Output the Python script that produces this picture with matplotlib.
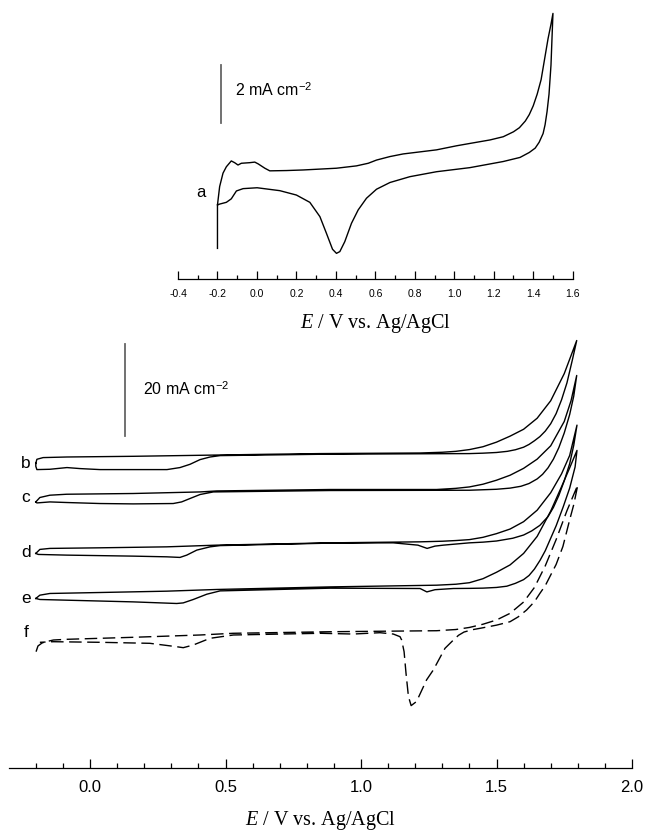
import matplotlib
matplotlib.use("Agg")
import matplotlib.pyplot as plt

plt.rcParams['font.family'] = ['Liberation Sans', 'DejaVu Sans']
plt.rcParams['mathtext.fontset'] = 'custom'
plt.rcParams['mathtext.rm'] = 'Liberation Sans'
plt.rcParams['mathtext.it'] = 'Liberation Serif:italic'

# ---- top panel: curve a (mA cm-2 vs V) ----
a_E = [-0.20, -0.20, -0.189, -0.172, -0.155, -0.130, -0.113, -0.096, -0.079, -0.037, -0.011, 0.006,
       0.040, 0.065, 0.149, 0.234, 0.403, 0.504, 0.564, 0.606, 0.674, 0.741, 0.910, 1.012, 1.079,
       1.181, 1.248, 1.30, 1.33, 1.36, 1.38, 1.40, 1.42, 1.44, 1.46, 1.475, 1.49, 1.50,
       1.495, 1.49, 1.48, 1.47, 1.46, 1.45, 1.43, 1.41, 1.38, 1.333, 1.248, 1.079, 0.910, 0.775,
       0.674, 0.606, 0.555, 0.513, 0.479, 0.445, 0.420, 0.403, 0.383, 0.352, 0.319, 0.268, 0.200,
       0.116, 0.001, -0.070, -0.104, -0.130, -0.155, -0.189, -0.20]
a_I = [-2.69, -1.20, -0.57, -0.11, 0.11, 0.31, 0.25, 0.17, 0.23, 0.25, 0.27, 0.21,
       0.06, -0.03, -0.02, 0.00, 0.06, 0.14, 0.23, 0.34, 0.46, 0.55, 0.69, 0.83, 0.91,
       1.03, 1.14, 1.31, 1.45, 1.68, 1.90, 2.20, 2.60, 3.10, 3.90, 4.50, 5.00, 5.37,
       4.50, 3.60, 2.60, 2.00, 1.55, 1.25, 0.95, 0.75, 0.60, 0.43, 0.29, 0.08, -0.06, -0.23,
       -0.43, -0.66, -0.97, -1.37, -1.83, -2.46, -2.80, -2.86, -2.72, -2.17, -1.60, -1.11, -0.86,
       -0.71, -0.61, -0.64, -0.72, -0.99, -1.11, -1.17, -1.20]

# ---- bottom panel: curves b-f (mA cm-2 vs V, each relative to its own start) ----
b_E = [-0.200, -0.196, -0.173, -0.085, 0.159, 0.406, 0.653, 0.849, 1.218, 1.30, 1.35, 1.40,
       1.45, 1.50, 1.55, 1.60, 1.65, 1.70, 1.75, 1.796,
       1.78, 1.76, 1.74, 1.72, 1.70, 1.68, 1.66, 1.64, 1.62, 1.60, 1.57, 1.54, 1.50, 1.45, 1.40,
       1.218, 0.849, 0.480, 0.443, 0.406, 0.369, 0.332, 0.284, 0.159, 0.037, -0.037, -0.085,
       -0.148, -0.196, -0.200, -0.200]
b_I = [0.0, 0.87, 1.24, 1.37, 1.52, 1.74, 1.96, 2.11, 2.24, 2.40, 2.60, 2.98,
       3.60, 4.60, 5.90, 7.40, 9.80, 13.6, 19.5, 26.7,
       22.5, 17.5, 13.8, 10.8, 8.60, 7.00, 5.80, 4.90, 4.10, 3.50, 2.95, 2.60, 2.35, 2.20, 2.11,
       2.07, 1.96, 1.67, 1.37, 0.80, -0.22, -0.93, -1.37, -1.37, -1.37, -1.15, -0.93,
       -1.30, -1.37, -0.65, 0.0]

c_E = [-0.200, -0.185, -0.148, -0.086, 0.159, 0.406, 0.468, 0.886, 1.279, 1.35, 1.40, 1.45,
       1.50, 1.55, 1.60, 1.65, 1.70, 1.75, 1.775, 1.796,
       1.785, 1.77, 1.75, 1.73, 1.71, 1.69, 1.67, 1.65, 1.62, 1.59, 1.55, 1.50, 1.40, 0.886,
       0.455, 0.406, 0.369, 0.338, 0.307, 0.159, 0.037, -0.086, -0.148, -0.196, -0.200]
c_I = [0.0, 0.96, 1.46, 1.67, 1.83, 2.17, 2.39, 2.70, 2.70, 2.95, 3.26, 3.85,
       4.72, 5.80, 7.30, 9.30, 12.2, 17.5, 22.0, 27.5,
       23.0, 19.0, 15.0, 11.8, 9.30, 7.40, 6.00, 5.00, 4.00, 3.40, 3.00, 2.75, 2.54, 2.48,
       2.17, 1.61, 0.74, 0.0, -0.35, -0.43, -0.35, -0.13, 0.0, -0.22, 0.0]

d_E = [-0.200, -0.185, -0.148, 0.037, 0.283, 0.468, 0.886, 1.218, 1.30, 1.35, 1.40, 1.45,
       1.50, 1.55, 1.60, 1.65, 1.70, 1.74, 1.77, 1.797,
       1.785, 1.77, 1.75, 1.73, 1.71, 1.69, 1.66, 1.63, 1.60, 1.56, 1.50, 1.45, 1.40, 1.304,
       1.273, 1.244, 1.210, 1.119, 0.886, 0.480, 0.443, 0.394, 0.357, 0.332, 0.283, 0.160,
       -0.086, -0.191, -0.200]
d_I = [0.0, 0.87, 1.09, 1.22, 1.43, 1.80, 2.30, 2.52, 2.65, 2.80, 3.00, 3.50,
       4.30, 5.30, 6.90, 9.40, 13.2, 17.3, 21.3, 27.9,
       23.5, 19.5, 15.8, 12.6, 10.0, 8.00, 6.10, 4.90, 4.00, 3.30, 2.70, 2.45, 2.30, 1.80,
       1.59, 1.09, 1.80, 2.30, 2.24, 1.70, 1.43, 0.72, -0.37, -0.87, -0.74, -0.59,
       -0.37, -0.22, 0.0]

e_E = [-0.200, -0.185, -0.148, 0.037, 0.283, 0.468, 0.886, 1.279, 1.35, 1.40, 1.45, 1.50,
       1.55, 1.60, 1.65, 1.70, 1.74, 1.77, 1.797,
       1.79, 1.77, 1.746, 1.72, 1.697, 1.68, 1.661, 1.64, 1.62, 1.60, 1.57, 1.538, 1.50, 1.45,
       1.40, 1.341, 1.273, 1.243, 1.218, 0.886, 0.480, 0.431, 0.381, 0.344, 0.320, 0.160,
       -0.086, -0.185, -0.200]
e_I = [0.0, 0.72, 1.09, 1.30, 1.59, 1.96, 2.52, 2.89, 3.10, 3.43, 4.30, 5.70,
       7.30, 9.80, 13.5, 19.0, 24.3, 28.4, 32.2,
       28.6, 24.0, 19.9, 15.8, 12.7, 10.4, 8.33, 6.40, 5.00, 4.10, 3.30, 2.67, 2.40, 2.25,
       2.20, 2.17, 1.91, 1.43, 2.17, 2.24, 1.65, 0.93, -0.22, -0.96, -1.09, -0.74,
       -0.37, -0.22, 0.0]

f_E = [-0.199, -0.192, -0.177, -0.159, -0.135, -0.086, 0.160, 0.406, 0.528, 0.886, 1.279, 1.35,
       1.40, 1.45, 1.50, 1.55, 1.60, 1.64, 1.68, 1.72, 1.76, 1.800,
       1.785, 1.77, 1.745, 1.72, 1.70, 1.68, 1.66, 1.64, 1.611, 1.58, 1.55, 1.50, 1.439, 1.41,
       1.38, 1.36, 1.341, 1.310, 1.267, 1.242, 1.205, 1.185, 1.175, 1.166, 1.159, 1.150, 1.144,
       1.119, 1.070, 0.972, 0.849, 0.529, 0.443, 0.381, 0.344, 0.320, 0.221, 0.037, -0.135,
       -0.185]
f_I = [-2.17, -0.93, -0.28, 0.04, 0.37, 0.52, 0.96, 1.46, 1.83, 2.17, 2.39, 2.65,
       3.10, 3.80, 4.72, 6.17, 8.63, 11.8, 16.5, 22.2, 28.5, 34.1,
       29.8, 26.5, 20.7, 16.8, 14.5, 12.2, 10.5, 8.70, 6.89, 5.40, 4.35, 3.60, 2.91, 2.60,
       2.10, 1.40, 0.37, -1.43, -6.13, -8.30, -13.0, -13.9, -11.9, -6.80, -2.17, 0.37, 1.09,
       1.67, 1.96, 1.67, 1.83, 1.46, 0.74, -0.72, -1.30, -1.09, -0.35, -0.13, 0.0,
       -0.13]

curves = [(b_E, b_I), (c_E, c_I), (d_E, d_I), (e_E, e_I), (f_E, f_I)]
curve_labels = ['b', 'c', 'd', 'e', 'f']
offsets = [66.2, 57.8, 46.6, 36.8, 27.4]   # vertical stacking of the curves
label_y = [66.2, 58.8, 46.7, 36.9, 29.3]

fig = plt.figure(figsize=(6.46, 8.32), dpi=100)

# top axes
ax1 = fig.add_axes([178 / 646, 1 - 279.3 / 832, (572.7 - 178) / 646, 279.3 / 832])
ax1.plot(a_E, a_I, color='black', lw=1.0)
ax1.set_xlim(-0.4, 1.6)
ax1.set_ylim(-3.75, 5.83)
ax1.plot([-0.18, -0.18], [1.6, 3.6], color='#666666', lw=1.3)
ax1.text(-0.113, 2.74, '2 mA cm$^{-2}$', fontsize=11.5, va='center', ha='left')
ax1.text(-0.282, -0.78, 'a', fontsize=12, va='center', ha='center')
ax1.set_xticks([-0.4, -0.2, 0.0, 0.2, 0.4, 0.6, 0.8, 1.0, 1.2, 1.4, 1.6])
ax1.set_xticklabels(['-0.4', '-0.2', '0.0', '0.2', '0.4', '0.6', '0.8', '1.0', '1.2', '1.4', '1.6'])
ax1.set_xticks([-0.3, -0.1, 0.1, 0.3, 0.5, 0.7, 0.9, 1.1, 1.3, 1.5], minor=True)
ax1.tick_params(axis='x', which='major', direction='in', length=6, width=0.9, pad=7, labelsize=7.5)
ax1.tick_params(axis='x', which='minor', direction='in', length=3, width=0.9)
ax1.set_yticks([])
for s in ['top', 'left', 'right']:
    ax1.spines[s].set_visible(False)
ax1.spines['bottom'].set_linewidth(0.9)
ax1.set_xlabel('$E$ / V vs. Ag/AgCl', fontsize=14.5, family='Liberation Serif', labelpad=9)

# bottom axes
ax2 = fig.add_axes([8.7 / 646, 1 - 767.7 / 832, (632 - 8.7) / 646, (767.7 - 335) / 832])
for (E, I), off, ls in zip(curves, offsets, ['-', '-', '-', '-', '--']):
    y = [v + off for v in I]
    if ls == '--':
        ax2.plot(E, y, color='black', lw=1.0, dashes=(9, 4))
    else:
        ax2.plot(E, y, color='black', lw=1.0)
for lab, ly in zip(curve_labels, label_y):
    ax2.text(-0.236, ly, lab, fontsize=12.5, va='center', ha='center')
ax2.plot([0.129, 0.129], [72.1, 92.1], color='#666666', lw=1.3)
ax2.text(0.196, 82.3, '20 mA cm$^{-2}$', fontsize=11.5, va='center', ha='left')
ax2.set_xlim(-0.3, 2.0)
ax2.set_ylim(0, 94.1)
ax2.set_xticks([0.0, 0.5, 1.0, 1.5, 2.0])
ax2.set_xticklabels(['0.0', '0.5', '1.0', '1.5', '2.0'])
ax2.set_xticks([-0.2, -0.1, 0.1, 0.2, 0.3, 0.4, 0.6, 0.7, 0.8, 0.9, 1.1, 1.2, 1.3, 1.4,
                1.6, 1.7, 1.8, 1.9], minor=True)
ax2.tick_params(axis='x', which='major', direction='in', length=6.5, width=0.9, pad=9, labelsize=12)
ax2.tick_params(axis='x', which='minor', direction='in', length=3.3, width=0.9)
ax2.set_yticks([])
for s in ['top', 'left', 'right']:
    ax2.spines[s].set_visible(False)
ax2.spines['bottom'].set_linewidth(0.9)
ax2.set_xlabel('$E$ / V vs. Ag/AgCl', fontsize=14.5, family='Liberation Serif', labelpad=10)

fig.savefig('out.png', dpi=100)
